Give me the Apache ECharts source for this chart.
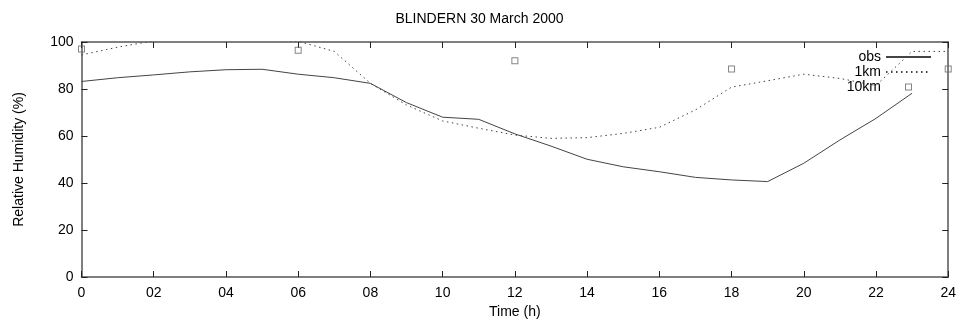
<!DOCTYPE html>
<html>
<head>
<meta charset="utf-8">
<script src="https://cdn.jsdelivr.net/npm/echarts@6/dist/echarts.min.js"></script>
<style>
  html, body { margin: 0; padding: 0; background: #ffffff; }
  #chart { width: 959px; height: 325px; }
</style>
</head>
<body>
<div id="chart"></div>
<script>
// Relative humidity at Blindern, 30 March 2000: observations vs 1 km and 10 km model runs
const obsHours = [0, 1, 2, 3, 4, 5, 6, 7, 8, 9, 10, 11, 12, 13, 14, 15, 16, 17, 18, 19, 20, 21, 22, 23];
const obsRH = [83.2, 84.8, 86, 87.3, 88.2, 88.4, 86.3, 84.8, 82.4, 74.2, 68, 67.1, 60.9, 55.7, 50.1, 46.9, 44.8, 42.4, 41.3, 40.6, 48.4, 58.3, 67.5, 78.2];

const km1Hours = [0, 1, 2, 3, 4, 5, 6, 7, 8, 9, 10, 11, 12, 13, 14, 15, 16, 17, 18, 19, 20, 21, 22, 23, 24];
const km1RH = [94.5, 97.8, 100.5, 102, 102, 101, 100.3, 96, 82.4, 73.2, 66.4, 63.3, 60.4, 59, 59.3, 61.1, 63.7, 71.1, 80.8, 83.5, 86.3, 84.5, 81.5, 96, 96];

const km10Hours = [0, 6, 12, 18, 24];
const km10RH = [97, 96.5, 92, 88.5, 88.5];

const xTickLabels = ['0', '02', '04', '06', '08', '10', '12', '14', '16', '18', '20', '22', '24'];

const FONT = '"Liberation Sans", Arial, Helvetica, sans-serif';
const AXIS_COLOR = '#555555';
const TICK_COLOR = '#222222';
const LINE_COLOR = '#444444';
const BOX_COLOR = '#666666';
// hollow square with a 1px frame, padded so it keeps gnuplot's small point size
const BOX_ICON = 'path://M0,0 M12,12 M2.5,2.5 L9.5,2.5 L9.5,9.5 L2.5,9.5 Z M3.5,3.5 L3.5,8.5 L8.5,8.5 L8.5,3.5 Z';

const chart = echarts.init(document.getElementById('chart'), null, { renderer: 'canvas' });

const pair = (xs, ys) => xs.map((x, i) => [x, ys[i]]);

const tickStyle = { show: true, inside: true, length: 6, lineStyle: { color: TICK_COLOR, width: 1 } };
const lineStyle = { show: true, onZero: false, lineStyle: { color: AXIS_COLOR, width: 1.5 } };

const option = {
  backgroundColor: '#ffffff',
  animation: false,
  textStyle: { fontFamily: FONT, color: '#000000' },
  title: {
    text: 'BLINDERN 30 March 2000',
    left: 'center',
    top: 7,
    textStyle: { fontFamily: FONT, fontSize: 14, fontWeight: 'normal', color: '#000000' },
  },
  legend: {
    orient: 'vertical',
    align: 'right',
    right: 27,
    top: 50,
    padding: 0,
    itemWidth: 45,
    itemHeight: 12,
    itemGap: 1,
    textStyle: { fontFamily: FONT, fontSize: 14, color: '#000000', lineHeight: 14 },
    data: [
      { name: 'obs', itemStyle: { opacity: 0 } },
      { name: '1km', itemStyle: { opacity: 0 } },
      { name: '10km', icon: BOX_ICON, itemStyle: { color: BOX_COLOR, borderWidth: 0 } },
    ],
  },
  grid: { left: 81.5, right: 9, top: 42, bottom: 48 },
  xAxis: [
    {
      type: 'value',
      min: 0,
      max: 24,
      interval: 2,
      position: 'bottom',
      name: 'Time (h)',
      nameLocation: 'middle',
      nameGap: 24,
      nameTextStyle: { fontFamily: FONT, fontSize: 14, color: '#000000' },
      axisLine: lineStyle,
      axisTick: tickStyle,
      axisLabel: {
        margin: 9,
        fontFamily: FONT,
        fontSize: 14,
        color: '#000000',
        formatter: (v) => xTickLabels[Math.round(v / 2)],
      },
      splitLine: { show: false },
    },
    {
      type: 'value',
      min: 0,
      max: 24,
      interval: 2,
      position: 'top',
      axisLine: lineStyle,
      axisTick: tickStyle,
      axisLabel: { show: false },
      splitLine: { show: false },
    },
  ],
  yAxis: [
    {
      type: 'value',
      min: 0,
      max: 100,
      interval: 20,
      position: 'left',
      name: 'Relative Humidity (%)',
      nameLocation: 'middle',
      nameGap: 55,
      nameTextStyle: { fontFamily: FONT, fontSize: 14, color: '#000000' },
      axisLine: lineStyle,
      axisTick: tickStyle,
      axisLabel: { margin: 8, fontFamily: FONT, fontSize: 14, color: '#000000' },
      splitLine: { show: false },
    },
    {
      type: 'value',
      min: 0,
      max: 100,
      interval: 20,
      position: 'right',
      axisLine: lineStyle,
      axisTick: tickStyle,
      axisLabel: { show: false },
      splitLine: { show: false },
    },
  ],
  series: [
    {
      name: 'obs',
      type: 'line',
      data: pair(obsHours, obsRH),
      symbol: 'none',
      clip: true,
      color: LINE_COLOR,
      lineStyle: { color: LINE_COLOR, width: 1, type: 'solid' },
    },
    {
      name: '1km',
      type: 'line',
      data: pair(km1Hours, km1RH),
      symbol: 'none',
      clip: true,
      color: LINE_COLOR,
      lineStyle: { color: LINE_COLOR, width: 1, type: [1.5, 3.5] },
    },
    {
      name: '10km',
      type: 'scatter',
      data: pair(km10Hours, km10RH),
      symbol: BOX_ICON,
      symbolSize: 12,
      symbolKeepAspect: true,
      clip: true,
      color: BOX_COLOR,
      itemStyle: { color: BOX_COLOR, borderWidth: 0 },
    },
  ],
};

chart.setOption(option);
</script>
</body>
</html>
